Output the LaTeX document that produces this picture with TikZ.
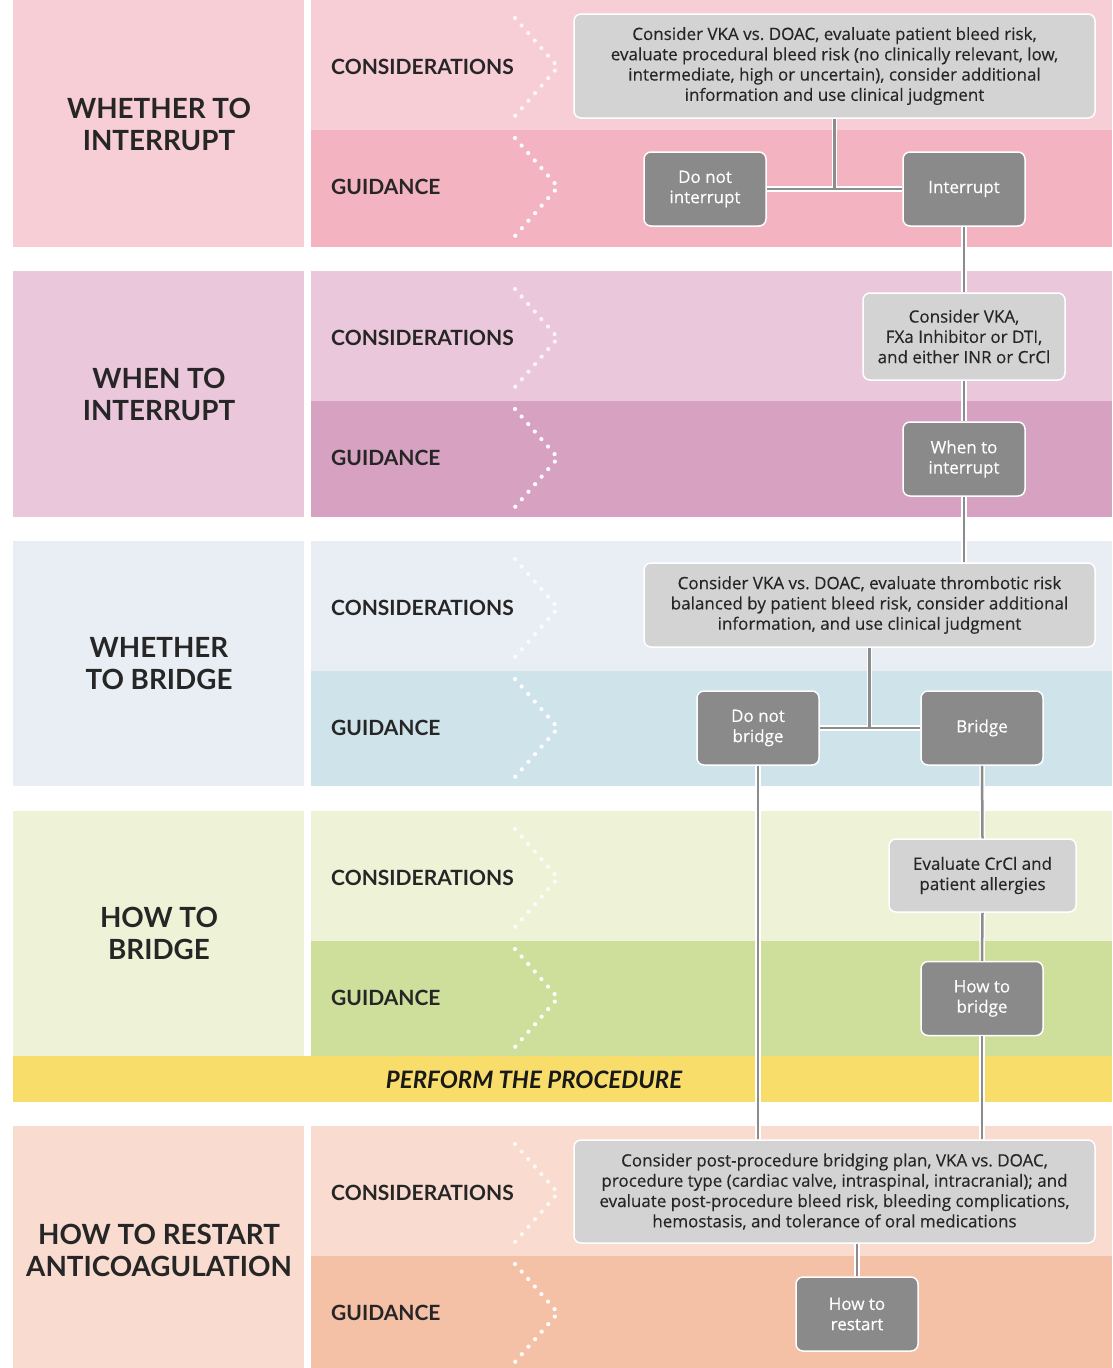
\documentclass[tikz,border=0pt]{standalone}
\usepackage{fontspec}
\setmainfont{Lato}
\newfontfamily\boxfont[FakeBold=0.3]{Open Sans}
\frenchspacing
\definecolor{pinkL}{HTML}{F7CDD6}
\definecolor{pinkG}{HTML}{F4B3C0}
\definecolor{mauveL}{HTML}{EBC7DC}
\definecolor{mauveG}{HTML}{D7A1C1}
\definecolor{blueL}{HTML}{E9EEF4}
\definecolor{blueG}{HTML}{CEE3EA}
\definecolor{limeL}{HTML}{EEF3D8}
\definecolor{limeG}{HTML}{CEDE9B}
\definecolor{peachL}{HTML}{F9DBD0}
\definecolor{peachG}{HTML}{F5C1A6}
\definecolor{sun}{HTML}{F9DD6B}
\definecolor{boxlight}{HTML}{D3D3D3}
\definecolor{boxdark}{HTML}{8A8A8A}
\definecolor{linkgray}{HTML}{8C8C8C}
\begin{document}
\begin{tikzpicture}[
			x=1pt, y=-1pt,
			head/.style={font=\fontsize{27.8}{32}\selectfont\bfseries, align=center, text=black!85},
			tag/.style={font=\fontsize{21}{24}\selectfont\bfseries, anchor=west, inner sep=0, text=black!85},
			chev/.style={draw=white, line width=4.2pt, line cap=round, dash pattern=on 0pt off 10pt},
			soft/.style={rectangle, rounded corners=7pt, draw=white, line width=1.5pt, fill=boxlight, align=center, font=\boxfont\fontsize{17}{20.3}\selectfont, text=black!85, inner sep=0},
			hard/.style={soft, fill=boxdark, text=white, minimum width=122pt, minimum height=74pt},
			link/.style={draw=linkgray, line width=2.5pt, preaction={draw=white, line width=5.5pt}},
		]
		\useasboundingbox (0,0) rectangle (1112,1368);
		% bands
		\foreach \top/\high/\soft/\deep in {0/247/pinkL/pinkG, 271/246/mauveL/mauveG, 541/245/blueL/blueG, 811/245/limeL/limeG, 1126/242/peachL/peachG} {
			\fill[\soft] (13,\top) rectangle (304,\top+\high);
			\fill[\soft] (311,\top) rectangle (1112,\top+130);
			\fill[\deep] (311,\top+130) rectangle (1112,\top+\high);
			\draw[chev, opacity=0.8] (515,\top+18) -- (558,\top+67) -- (515,\top+116);
			\draw[chev] (515,\top+138) -- (558,\top+187) -- (515,\top+236);
			\node[tag] (considerations-\top) at (331,\top+67) {CONSIDERATIONS};
			\node[tag] (guidance-\top) at (331,\top+187) {GUIDANCE};
		}
		\fill[sun] (13,1056) rectangle (1112,1102);
		\node[font=\fontsize{24}{28}\selectfont\bfseries\itshape, text=black!90] (perform) at (534,1080) {PERFORM THE PROCEDURE};

		\node[head] (whether) at (159,124) {WHETHER TO\\ INTERRUPT};
		\node[head] (whenhead) at (159,394) {WHEN TO\\ INTERRUPT};
		\node[head] (bridging) at (159,664) {WHETHER\\ TO BRIDGE};
		\node[head] (howhead) at (159,933) {HOW TO\\ BRIDGE};
		\node[head] (restarthead) at (159,1250) {HOW TO RESTART\\ ANTICOAGULATION};

		% boxes
		\node[soft, minimum width=521pt, minimum height=104pt] (weigh1) at (834.5,66) {Consider VKA vs. DOAC, evaluate patient bleed risk,\\ evaluate procedural bleed risk (no clinically relevant, low,\\ intermediate, high or uncertain), consider additional\\ information and use clinical judgment};
		\node[hard] (keep) at (705,189) {Do not\\ interrupt};
		\node[hard] (interrupt) at (964,189) {Interrupt};
		\node[soft, minimum width=202pt, minimum height=87pt] (weigh2) at (964,336.5) {Consider VKA,\\ FXa Inhibitor or DTI,\\ and either INR or CrCl};
		\node[hard] (when) at (964,459) {When to\\ interrupt};
		\node[soft, minimum width=451pt, minimum height=84pt] (weigh3) at (869.5,605) {Consider VKA vs. DOAC, evaluate thrombotic risk\\ balanced by patient bleed risk, consider additional\\ information, and use clinical judgment};
		\node[hard] (nobridge) at (758,728) {Do not\\ bridge};
		\node[hard] (bridge) at (982,728) {Bridge};
		\node[soft, minimum width=187pt, minimum height=73pt] (weigh4) at (982.5,875.5) {Evaluate CrCl and\\ patient allergies};
		\node[hard] (howbridge) at (982,998.5) {How to\\ bridge};
		\node[soft, minimum width=521pt, minimum height=103pt] (weigh5) at (834.5,1191.5) {Consider post-procedure bridging plan, VKA vs. DOAC,\\ procedure type (cardiac valve, intraspinal, intracranial); and\\ evaluate post-procedure bleed risk, bleeding complications,\\ hemostasis, and tolerance of oral medications};
		\node[hard] (restart) at (857,1314) {How to\\ restart};

		% links
		\draw[link] (keep.east) -- (interrupt.west) (weigh1.south) -- (weigh1.south |- keep.east);
		\draw[link] (interrupt.south) -- (weigh2.north);
		\draw[link] (weigh2.south) -- (when.north);
		\draw[link] (when.south) -- (when |- weigh3.north);
		\draw[link] (nobridge.east) -- (bridge.west) (weigh3.south) -- (weigh3.south |- bridge.west);
		\draw[link] (bridge.south) -- (weigh4.north);
		\draw[link] (weigh4.south) -- (howbridge.north);
		\draw[link] (howbridge.south) -- (howbridge |- weigh5.north);
		\draw[link] (nobridge.south) -- (nobridge |- weigh5.north);
		\draw[link] (restart |- weigh5.south) -- (restart.north);
		\end{tikzpicture}
\end{document}
